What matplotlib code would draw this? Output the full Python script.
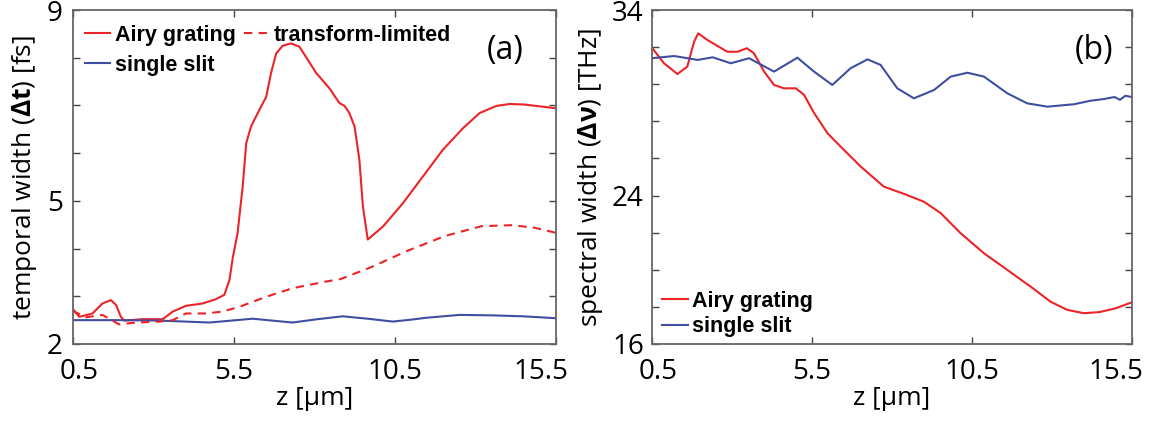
import matplotlib
matplotlib.use("Agg")
from matplotlib import pyplot as plt
from matplotlib.ticker import MultipleLocator, FixedLocator
from matplotlib.transforms import ScaledTranslation

# values
# (a) temporal width [fs] vs z [um]
z_airy_a = [0.5, 0.55, 0.71, 1.12, 1.43, 1.69, 1.85, 2.00, 2.11, 2.67, 3.30, 3.61,
            4.02, 4.54, 4.95, 5.21, 5.37, 5.47, 5.62, 5.78, 5.89, 6.04, 6.30, 6.51,
            6.66, 6.82, 7.02, 7.28, 7.54, 8.06, 8.47, 8.78, 8.94, 9.09, 9.25, 9.40,
            9.51, 9.66, 10.13, 10.75, 11.37, 11.99, 12.61, 13.13, 13.65, 14.06, 14.5,
            15.0, 15.5]
t_airy = [2.75, 2.70, 2.57, 2.64, 2.85, 2.92, 2.82, 2.57, 2.49, 2.52, 2.52, 2.68,
          2.80, 2.85, 2.94, 3.03, 3.34, 3.80, 4.32, 5.30, 6.21, 6.56, 6.91, 7.18,
          7.68, 8.09, 8.25, 8.30, 8.23, 7.68, 7.36, 7.05, 6.99, 6.84, 6.56, 5.86,
          4.88, 4.19, 4.46, 4.95, 5.51, 6.07, 6.52, 6.84, 6.99, 7.03, 7.02,
          6.98, 6.94]

z_tl = [0.5, 0.55, 0.92, 1.43, 1.74, 1.95, 2.47, 3.19, 3.61, 4.02, 4.64, 5.16,
        5.68, 6.51, 7.33, 8.37, 8.81, 9.73, 10.88, 12.04, 13.19, 14.12, 14.81, 15.5]
t_tl = [2.70, 2.68, 2.56, 2.61, 2.49, 2.41, 2.45, 2.47, 2.50, 2.64, 2.64, 2.68,
        2.78, 2.99, 3.17, 3.31, 3.36, 3.60, 3.95, 4.26, 4.47, 4.49, 4.44, 4.33]

z_slit_a = [0.5, 2.0, 3.2, 4.0, 4.75, 5.42, 6.09, 6.7, 7.33, 8.1, 8.88, 9.66,
            10.44, 11.0, 11.48, 12.51, 13.54, 14.5, 15.5]
t_slit = [2.50, 2.50, 2.49, 2.47, 2.45, 2.49, 2.53, 2.49, 2.45, 2.52, 2.58, 2.53,
          2.47, 2.51, 2.55, 2.61, 2.60, 2.58, 2.54]

# (b) spectral width [THz] vs z [um]
z_airy_b = [0.5, 0.89, 1.31, 1.62, 1.83, 1.96, 2.25, 2.87, 3.19, 3.48, 3.70, 4.02,
            4.33, 4.64, 5.01, 5.27, 5.58, 6.00, 6.41, 7.04, 7.76, 8.39, 9.01, 9.54,
            10.16, 10.89, 11.62, 12.35, 12.97, 13.49, 14.01, 14.5, 15.0, 15.5]
nu_airy = [32.0, 31.13, 30.55, 30.95, 32.29, 32.74, 32.38, 31.75, 31.75, 31.94, 31.67, 30.68,
           29.96, 29.78, 29.78, 29.42, 28.45, 27.36, 26.64, 25.56, 24.48, 24.09, 23.67, 23.05,
           21.97, 20.89, 19.99, 19.09, 18.28, 17.84, 17.66, 17.72, 17.92, 18.24]

z_slit_b = [0.5, 1.21, 1.94, 2.41, 2.98, 3.55, 4.33, 5.06, 5.58, 6.15, 6.72, 7.25,
            7.66, 8.18, 8.70, 9.33, 9.85, 10.37, 10.89, 11.62, 12.24, 12.87, 13.70,
            14.22, 14.63, 14.97, 15.14, 15.31, 15.5]
nu_slit = [31.40, 31.52, 31.31, 31.45, 31.13, 31.40, 30.68, 31.43, 30.68, 29.96, 30.86, 31.34,
           31.04, 29.78, 29.24, 29.69, 30.41, 30.62, 30.41, 29.51, 28.97, 28.79, 28.92,
           29.11, 29.20, 29.31, 29.16, 29.38, 29.31]

xticks = [0.5, 5.5, 10.5, 15.5]
xticklabels = ["0.5", "5.5", "10.5", "15.5"]

RED = "#ec2327"
BLUE = "#3f4ea0"

plt.rcParams["font.family"] = ["Open Sans", "DejaVu Sans"]
plt.rcParams["mathtext.fontset"] = "custom"
plt.rcParams["mathtext.rm"] = "Open Sans"
plt.rcParams["mathtext.bf"] = "Open Sans:bold"

W, H = 1150, 421
fig = plt.figure(figsize=(W / 100, H / 100), dpi=100)
ax1 = fig.add_axes([72.5 / W, 77 / H, 483.5 / W, 334 / H])
ax2 = fig.add_axes([651.5 / W, 77 / H, 480 / W, 334 / H])

leg_font = {"family": "Liberation Sans", "weight": "bold", "size": 15.5}

ax1.plot(z_airy_a, t_airy, color=RED, lw=1.5, label="Airy grating")
ax1.plot(z_slit_a, t_slit, color=BLUE, lw=1.5, label="single slit")
ax1.plot(z_tl, t_tl, color=RED, lw=1.5, ls=(0, (4, 3)), label="transform-limited")
ax1.set_ylim(2, 9)
ax1.yaxis.set_major_locator(FixedLocator([2, 5, 9]))
ax1.yaxis.set_minor_locator(MultipleLocator(1))
ax1.set_ylabel(r"temporal width ($\mathbf{\Delta t}$) [fs]", fontsize=19, labelpad=6)
ax1.legend(loc="upper left", ncol=2, frameon=False, prop=leg_font, handlelength=1.15,
           handletextpad=0.25, columnspacing=0.35, labelspacing=0.43, borderpad=0,
           borderaxespad=0, bbox_to_anchor=(12.5 / 483.5, 0.956))
ax1.text(0.895, 0.88, "(a)", transform=ax1.transAxes, fontsize=23, ha="center", va="center")
ax1.tick_params(axis="y", which="both", pad=7)

ax2.plot(z_airy_b, nu_airy, color=RED, lw=1.5, label="Airy grating")
ax2.plot(z_slit_b, nu_slit, color=BLUE, lw=1.5, label="single slit")
ax2.set_ylim(16, 34)
ax2.yaxis.set_major_locator(FixedLocator([16, 24, 34]))
ax2.yaxis.set_minor_locator(MultipleLocator(2))
ax2.set_ylabel(r"spectral width ($\mathbf{\Delta \nu}$) [THz]", fontsize=19, labelpad=5)
ax2.legend(loc="lower left", frameon=False, prop=leg_font, handlelength=1.2,
           handletextpad=0.2, labelspacing=0.2, borderpad=0, borderaxespad=0,
           bbox_to_anchor=(0.0215, 0.02))
ax2.text(0.922, 0.88, "(b)", transform=ax2.transAxes, fontsize=23, ha="center", va="center")
ax2.tick_params(axis="y", which="both", pad=5.5)

for ax in (ax1, ax2):
    ax.set_xlim(0.5, 15.5)
    ax.set_xticks(xticks)
    ax.set_xticklabels(xticklabels)
    ax.set_xlabel("z [μm]", fontsize=19, labelpad=0)
    ax.tick_params(which="both", direction="in", top=True, right=True,
                   labelsize=20, color="#444444", length=5, width=1)
    ax.tick_params(axis="x", pad=10)
    for s in ax.spines.values():
        s.set_color("#666666")
        s.set_linewidth(1.3)
    # edge labels sit a little inward, as in the original
    labels = ax.get_xticklabels()
    labels[0].set_transform(labels[0].get_transform()
                            + ScaledTranslation(5 / 72, 0, fig.dpi_scale_trans))
    labels[-1].set_transform(labels[-1].get_transform()
                             + ScaledTranslation(-11 / 72, 0, fig.dpi_scale_trans))

fig.savefig("out.png", dpi=100)
